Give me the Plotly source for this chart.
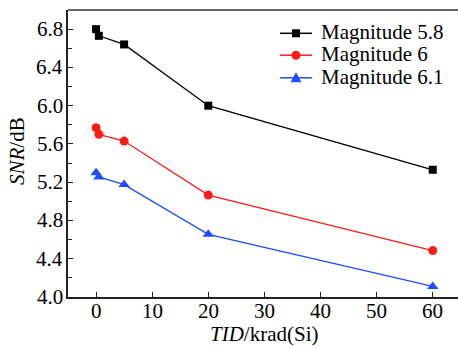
import plotly.graph_objects as go

tid = [0, 0.5, 5, 20, 60]
snr_58 = [6.80, 6.73, 6.64, 6.00, 5.33]
snr_6 = [5.77, 5.70, 5.63, 5.065, 4.485]
snr_61 = [5.30, 5.255, 5.175, 4.655, 4.11]
names = ["Magnitude 5.8", "Magnitude 6", "Magnitude 6.1"]
colors = ["#000000", "#ff1a1a", "#1f4cff"]
symbols = ["square", "circle", "triangle-up"]
sizes = [8, 9, 10]
x_ticks = [0, 10, 20, 30, 40, 50, 60]
y_ticks = [4.0, 4.4, 4.8, 5.2, 5.6, 6.0, 6.4, 6.8]
y_ticktext = ["4.0", "4.4", "4.8", "5.2", "5.6", "6.0", "6.4", "6.8"]
x_title = "<i>TID</i>/krad(Si)"
y_title = "<i>SNR</i>/dB"

FONT = "Liberation Serif"
FS = 21
W, H = 458, 348
ML, MR, MT, MB = 68, 0, 10, 51
PW, PH = W - ML - MR, H - MT - MB


def px(xp):
    return (xp - ML) / PW


def py(yp):
    return 1 - (yp - MT) / PH


fig = go.Figure()
for ys, nm, c, s, sz in zip([snr_58, snr_6, snr_61], names, colors, symbols, sizes):
    fig.add_trace(go.Scatter(
        x=tid, y=ys, name=nm, mode="lines+markers", showlegend=False,
        line=dict(color=c, width=1.3),
        marker=dict(symbol=s, size=sz, color=c, line=dict(width=0)),
    ))

annotations = []
for tv in x_ticks:
    annotations.append(dict(text=str(tv), x=tv, xref="x", y=0, yref="paper",
                            xanchor="center", yanchor="top", yshift=0, showarrow=False,
                            font=dict(family=FONT, size=FS, color="#000")))
for tv, tt in zip(y_ticks, y_ticktext):
    annotations.append(dict(text=tt, x=0, xref="paper", y=tv, yref="y",
                            xanchor="right", yanchor="middle", xshift=-3, showarrow=False,
                            font=dict(family=FONT, size=FS, color="#000")))
annotations.append(dict(text=x_title, x=px(264), xref="paper", y=py(334), yref="paper",
                        xanchor="center", yanchor="middle", showarrow=False,
                        font=dict(family=FONT, size=FS, color="#000")))
annotations.append(dict(text=y_title, x=px(17), xref="paper", y=py(151), yref="paper",
                        xanchor="center", yanchor="middle", textangle=-90, showarrow=False,
                        font=dict(family=FONT, size=FS, color="#000")))

shapes = [dict(type="line", xref="paper", yref="paper", x0=0, x1=1, y0=1, y1=1,
               line=dict(color="#333", width=1.5))]

row_y = [33.3, 55.2, 77.8]
marker_paths = [
    "M-4,-4L4,-4L4,4L-4,4Z",
    None,
    "M-5.5,-4.5L5.5,-4.5L0,5.5Z",
]
for nm, c, ry, mp in zip(names, colors, row_y, marker_paths):
    shapes.append(dict(type="line", xref="paper", yref="paper", x0=px(280), x1=px(312),
                       y0=py(ry), y1=py(ry), line=dict(color=c, width=1.5)))
    if mp is None:
        shapes.append(dict(type="circle", xref="paper", yref="paper",
                           xsizemode="pixel", ysizemode="pixel",
                           xanchor=px(296), yanchor=py(ry), x0=-4.5, x1=4.5, y0=-4.5, y1=4.5,
                           fillcolor=c, line=dict(width=0)))
    else:
        shapes.append(dict(type="path", xref="paper", yref="paper",
                           xsizemode="pixel", ysizemode="pixel",
                           xanchor=px(296), yanchor=py(ry), path=mp,
                           fillcolor=c, line=dict(width=0)))
    annotations.append(dict(text=nm, x=px(319), xref="paper", y=py(ry - 1), yref="paper",
                            xanchor="left", yanchor="middle", showarrow=False,
                            font=dict(family=FONT, size=FS, color="#000")))

fig.update_layout(
    width=W, height=H,
    margin=dict(l=ML, r=MR, t=MT, b=MB),
    paper_bgcolor="white", plot_bgcolor="white",
    font=dict(family=FONT, size=FS, color="#000000"),
    showlegend=False,
    xaxis=dict(
        range=[-5, 64.5], tickvals=x_ticks, showticklabels=False,
        ticks="inside", ticklen=5, tickwidth=1.3, tickcolor="#222",
        showline=True, linecolor="#222", linewidth=1.5,
        showgrid=False, zeroline=False,
    ),
    yaxis=dict(
        range=[4.0, 7.0], tickvals=y_ticks, showticklabels=False,
        ticks="inside", ticklen=5, tickwidth=1.3, tickcolor="#222",
        minor=dict(ticks="inside", dtick=0.2, tick0=4.0, ticklen=4, tickcolor="#222", tickwidth=1.3),
        showline=True, linecolor="#222", linewidth=1.5,
        showgrid=False, zeroline=False,
    ),
    shapes=shapes,
    annotations=annotations,
)

fig.write_html("out.html")
